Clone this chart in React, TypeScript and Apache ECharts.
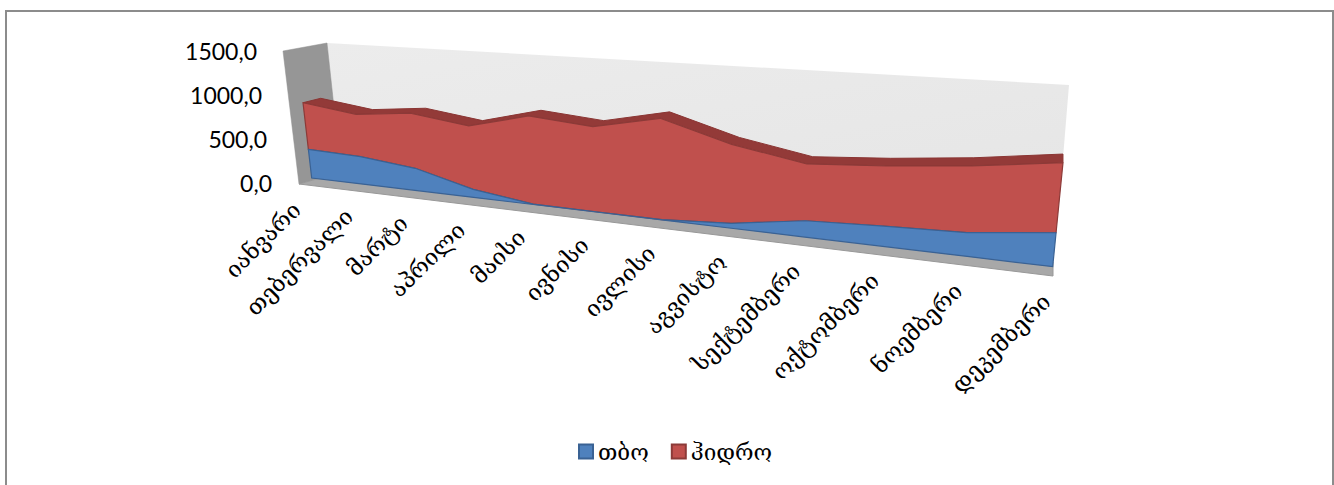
import React, { useEffect, useRef } from "react";
import * as echarts from "echarts";

const months = ["იანვარი", "თებერვალი", "მარტი", "აპრილი", "მაისი", "ივნისი", "ივლისი", "აგვისტო", "სექტემბერი", "ოქტომბერი", "ნოემბერი", "დეკემბერი"];
const thermal = [340, 320, 254, 90, 5, 3, 2, 50, 161, 195, 220, 308];
const hydro = [542, 482, 613, 694, 940, 887, 1028, 784, 549, 564, 608, 616];
const valueTicks = [0, 500, 1000, 1500];

// Perspective of the front plane of the areas: corners for (first month, 0), (last, 0), (last, max), (first, max)
const P00 = [311.7, 178], P10 = [1052.7, 266.7], P11 = [1069.7, 94.7], P01 = [296.7, 48];
const dx1 = P10[0] - P11[0], dx2 = P01[0] - P11[0], sx = P00[0] - P10[0] + P11[0] - P01[0];
const dy1 = P10[1] - P11[1], dy2 = P01[1] - P11[1], sy = P00[1] - P10[1] + P11[1] - P01[1];
const det = dx1 * dy2 - dx2 * dy1;
const g = (sx * dy2 - dx2 * sy) / det;
const h = (dx1 * sy - sx * dy1) / det;
const a = P10[0] - P00[0] + g * P10[0], b = P01[0] - P00[0] + h * P01[0];
const d = P10[1] - P00[1] + g * P10[1], e = P01[1] - P00[1] + h * P01[1];

function project(pt: number[], cs: any): number[] {
  const u = (pt[0] - cs.x) / cs.width;
  const v = (cs.y + cs.height - pt[1]) / cs.height;
  const w = 1 + g * u + h * v;
  return [(a * u + b * v + P00[0]) / w, (d * u + e * v + P00[1]) / w];
}
const depth = (p: number[]) => [p[0] + 17.7 - 0.0233 * (p[0] - 303), p[1] - 4.4 - 0.00566 * (p[0] - 303)];

const idx = months.map((_, i) => i);
const total = idx.map((i) => thermal[i] + hydro[i]);

function bandItem(topVals: number[], baseVals: number[], fill: string, stroke: string, withTop: boolean) {
  return (params: any, api: any) => {
    if (params.dataIndex !== 0) return null;
    const cs = params.coordSys;
    const top = idx.map((i) => project(api.coord([i, topVals[i]]), cs));
    const base = idx.map((i) => project(api.coord([i, baseVals[i]]), cs));
    const children: any[] = [];
    if (withTop) {
      children.push({
        type: "polygon",
        shape: { points: [...top, ...top.map(depth).reverse()] },
        style: { fill: "#933a38", stroke: "#8a3533", lineWidth: 1 },
      });
    }
    children.push({
      type: "polygon",
      shape: { points: [...top, ...base.slice().reverse()] },
      style: { fill, stroke, lineWidth: 1.2 },
    });
    return { type: "group", children };
  };
}

function labelItem(params: any, api: any) {
  const i = params.dataIndex;
  const p = project(api.coord([i, 0]), params.coordSys);
  return {
    type: "text",
    x: p[0] - 15 + i * 0.8,
    y: p[1] + 28 + i * 0.27,
    rotation: Math.PI / 4,
    style: {
      text: months[i],
      fill: "#000",
      font: '23px "DejaVu Serif", "DejaVu Sans", sans-serif',
      align: "right",
      verticalAlign: "middle",
    },
  };
}

const tickPad: Record<string, number> = { "0": 0, "500": 5, "1000": 10, "1500": 15 };

export default function App() {
  const ref = useRef<HTMLDivElement>(null);
  useEffect(() => {
    document.body.style.margin = "0";
    const chart = echarts.init(ref.current!, undefined, { renderer: "svg" });
    const rich: any = {};
    valueTicks.forEach((t) => {
      rich["t" + t] = { fontFamily: "Lato", fontSize: 23, color: "#000", padding: [0, tickPad[String(t)], 0, 0] };
    });
    chart.setOption({
      animation: false,
      backgroundColor: "#fff",
      grid: { left: 272, top: 51, width: 790, height: 132, containLabel: false },
      xAxis: { type: "category", data: months, boundaryGap: false, show: false },
      yAxis: {
        type: "value",
        min: 0,
        max: 1500,
        interval: 500,
        axisLine: { show: false },
        axisTick: { show: false },
        splitLine: { show: false },
        axisLabel: {
          margin: 0,
          formatter: (v: number) => `{t${v}|${v.toFixed(1).replace(".", ",")}}`,
          rich,
        },
      },
      legend: {
        left: 573,
        top: 435,
        itemWidth: 14,
        itemHeight: 14,
        itemGap: 22,
        icon: "rect",
        data: ["თბო", "ჰიდრო"],
        textStyle: { fontFamily: '"DejaVu Serif", "DejaVu Sans", sans-serif', fontSize: 22.5, color: "#000" },
      },
      graphic: [
        { type: "rect", z: -5, silent: true, shape: { x: 6, y: 11, width: 1327, height: 500 }, style: { fill: "#fff", stroke: "#8c8c8c", lineWidth: 2 } },
        {
          type: "polygon", z: -4, silent: true,
          shape: { points: [[327, 43], [1069, 85], [1062, 170], [340, 175]] },
          style: { fill: new echarts.graphic.LinearGradient(0, 0, 1, 1, [{ offset: 0, color: "#ececec" }, { offset: 1, color: "#e6e6e6" }]) },
        },
        {
          type: "polygon", z: -3, silent: true,
          shape: { points: [[283, 51], [327, 43], [341, 172], [299, 184]] },
          style: { fill: "#969696", stroke: "#8f8f8f", lineWidth: 0.5 },
        },
        {
          type: "polygon", z: -2, silent: true,
          shape: { points: [[299, 184], [1053, 276], [1053, 262], [341, 172]] },
          style: { fill: "#a8a8a8", stroke: "#989898", lineWidth: 1 },
        },
      ],
      series: [
        {
          name: "ჰიდრო",
          type: "custom",
          z: 3,
          renderItem: bandItem(total, thermal, "#c0504d", "#8c3a38", true),
          itemStyle: { color: "#c0504d", borderColor: "#8c3a38", borderWidth: 1 },
          data: idx.map((i) => [i, total[i]]),
          silent: true,
        },
        {
          name: "თბო",
          type: "custom",
          z: 4,
          renderItem: bandItem(thermal, idx.map(() => 0), "#4f81bd", "#3a6294", false),
          itemStyle: { color: "#4f81bd", borderColor: "#3a6294", borderWidth: 1 },
          data: idx.map((i) => [i, thermal[i]]),
          silent: true,
        },
        {
          name: "labels",
          type: "custom",
          z: 5,
          renderItem: labelItem,
          data: idx.map((i) => [i, 0]),
          silent: true,
        },
      ],
    });
    return () => chart.dispose();
  }, []);
  return <div ref={ref} style={{ position: "absolute", left: 0, top: 0, width: 1334, height: 485 }} />;
}
